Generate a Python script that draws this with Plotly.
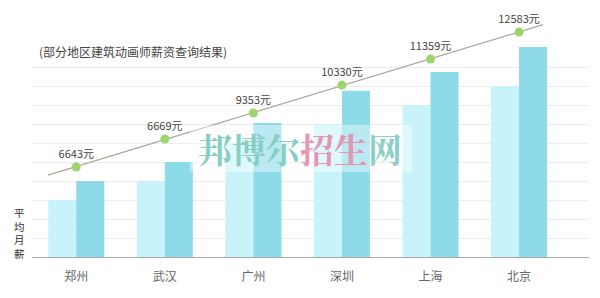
import numpy as np
import plotly.graph_objects as go

cities = ["郑州", "武汉", "广州", "深圳", "上海", "北京"]
light_vals = [3, 4, 6, 7, 8, 9]
dark_vals = [4, 5, 7.05, 8.75, 9.74, 11.05]
salaries = [6643, 6669, 9353, 10330, 11359, 12583]
trend_level = [4.74, 6.21, 7.58, 9.05, 10.42, 11.84]
grid_levels = [1, 2, 3, 4, 5, 6, 7, 8, 9, 10]

font_cjk = "Noto Sans CJK SC, Microsoft YaHei, sans-serif"
xi = list(range(len(cities)))

fig = go.Figure()
fig.add_trace(go.Bar(x=xi, y=light_vals, marker=dict(color="#c9f3fa", line_width=0),
                     offsetgroup="a", hoverinfo="skip"))
fig.add_trace(go.Bar(x=xi, y=dark_vals, marker=dict(color="#8ddbe9", line_width=0),
                     offsetgroup="b", hoverinfo="skip"))

# fitted trend line through the dots, extended a little past the ends
k, b = np.polyfit(xi, trend_level, 1)
xe = [-0.32, 5.27]
fig.add_trace(go.Scatter(x=xe, y=[k * v + b for v in xe], mode="lines",
                         line=dict(color="#aaa69c", width=1.2), hoverinfo="skip"))
fig.add_trace(go.Scatter(x=xi, y=trend_level, mode="markers+text",
                         marker=dict(color="#9cd56f", size=9),
                         text=[f"{s}元" for s in salaries], textposition="top center",
                         textfont=dict(family=font_cjk, size=11, color="#444444"),
                         hoverinfo="skip"))

fig.update_layout(
    width=600, height=298,
    margin=dict(l=32, r=11, t=0, b=41),
    paper_bgcolor="white", plot_bgcolor="white",
    showlegend=False, barmode="group", bargap=0.367, bargroupgap=0,
    xaxis=dict(range=[-0.5, 5.79], tickvals=xi, ticktext=cities,
               tickfont=dict(family=font_cjk, size=12, color="#666666"),
               showgrid=False, zeroline=False, showline=True, linecolor="#aaaaaa",
               linewidth=1, ticks="", ticklabelstandoff=9),
    yaxis=dict(range=[0, 13.53], tickvals=grid_levels, showticklabels=False,
               showgrid=True, gridcolor="#ececec", gridwidth=1, zeroline=False,
               showline=False),
)

annos = [dict(text="(部分地区建筑动画师薪资查询结果)", xref="paper", yref="paper",
              x=(37 - 32) / 557, y=1 - 52 / 257, xanchor="left", yanchor="middle",
              showarrow=False, font=dict(family=font_cjk, size=12, color="#444444"))]
annos.append(dict(text="<br>".join("平均月薪"), xref="paper", yref="paper",
                  x=(19 - 32) / 557, y=1 - 233 / 257,
                  xanchor="center", yanchor="middle", showarrow=False,
                  font=dict(family=font_cjk, size=10.5, color="#333333")))

# watermark
fig.add_shape(type="rect", xref="paper", yref="paper",
              x0=(190 - 32) / 557, x1=(412 - 32) / 557,
              y0=1 - 172 / 257, y1=1 - 125 / 257,
              fillcolor="rgba(255,255,255,0.4)", line_width=0, layer="above")
annos.append(dict(
    text="<b><span style='color:#86cfc3'>邦博尔</span><span style='color:#e497b4'>招生</span><span style='color:#8fd0c6'>网</span></b>",
    xref="paper", yref="paper", x=(300 - 32) / 557, y=1 - 148 / 257,
    xanchor="center", yanchor="middle", showarrow=False,
    font=dict(family="Noto Serif CJK SC, Noto Sans CJK SC, serif", size=34)))

fig.update_layout(annotations=annos)
fig.write_html("out.html")
